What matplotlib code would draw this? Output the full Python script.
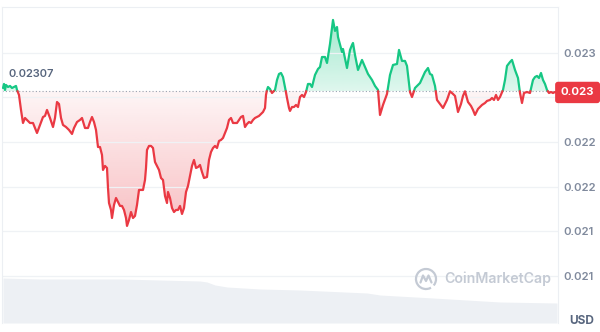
import numpy as np
import matplotlib
matplotlib.use('Agg')
import matplotlib.pyplot as plt
from matplotlib.path import Path
import matplotlib.colors as mcolors
from matplotlib.patches import Arc
import matplotlib.transforms as mtrans

plt.rcParams['font.family'] = ['Inter', 'DejaVu Sans']

# ---- data (time in arbitrary 24h units, price in USD) ----
t = [3, 4, 5, 6, 8, 10, 12, 14, 16, 17, 19, 21, 23, 25, 27, 30, 33, 37, 40, 43,
     45, 47, 50, 53, 55, 57, 59, 61, 63, 66, 69, 72, 74, 77, 80, 82, 85, 88, 90, 92,
     94, 96, 98, 100, 102, 103, 105, 107, 108, 109, 111, 112, 114, 116, 118, 120, 122, 124, 126, 127,
     129, 131, 133, 135, 137, 139, 141, 143, 145, 146, 147, 149, 151, 153, 155, 157, 159, 161, 163, 165,
     167, 168, 170, 172, 174, 176, 178, 180, 182, 184, 186, 188, 190, 192, 194, 196, 198, 200, 202, 204,
     207, 209, 211, 213, 215, 217, 219, 221, 223, 225, 227, 229, 231, 233, 235, 237, 239, 241, 243, 245,
     247, 249, 251, 253, 255, 257, 259, 261, 263, 265, 266, 267, 268, 270, 272, 274, 275, 277, 279, 281,
     283, 285, 287, 289, 290, 292, 294, 296, 298, 300, 302, 304, 306, 308, 310, 312, 315, 318, 320, 322,
     325, 327, 330, 333, 335, 337, 338, 342, 343, 347, 350, 352, 353, 355, 358, 362, 365, 368, 372, 375,
     378, 380, 383, 387, 390, 393, 397, 399, 402, 405, 407, 410, 412, 415, 420, 425, 428, 430, 432, 435,
     437, 440, 443, 447, 450, 453, 455, 458, 461, 463, 465, 468, 471, 473, 475, 478, 482, 485, 487, 490,
     492, 494, 496, 498, 500, 503, 505, 507, 510, 512, 515, 518, 520, 522, 524, 527, 530, 533, 535, 537,
     539, 541, 543, 545, 547, 549, 551, 553, 555, 557]

price = [0.023105, 0.023150, 0.023083, 0.023139, 0.023116, 0.023128, 0.023105, 0.023116, 0.023128, 0.023083,
         0.023027, 0.022859, 0.022713, 0.022769, 0.022747, 0.022713, 0.022713, 0.022601, 0.022691, 0.022780,
         0.022792, 0.022859, 0.022769, 0.022668, 0.022769, 0.022948, 0.022926, 0.022769, 0.022691, 0.022668,
         0.022635, 0.022590, 0.022657, 0.022724, 0.022747, 0.022769, 0.022657, 0.022657, 0.022724, 0.022780,
         0.022724, 0.022635, 0.022444, 0.022444, 0.022355, 0.022187, 0.022232, 0.022209, 0.021985, 0.021817,
         0.021739, 0.021649, 0.021795, 0.021873, 0.021828, 0.021784, 0.021784, 0.021739, 0.021649, 0.021560,
         0.021627, 0.021716, 0.021649, 0.021672, 0.021795, 0.021963, 0.021963, 0.021963, 0.022075, 0.022209,
         0.022411, 0.022456, 0.022456, 0.022433, 0.022276, 0.022232, 0.022187, 0.022097, 0.022075, 0.021896,
         0.021817, 0.021940, 0.021873, 0.021761, 0.021716, 0.021739, 0.021739, 0.021784, 0.021694, 0.021761,
         0.021940, 0.022008, 0.022120, 0.022232, 0.022299, 0.022209, 0.022220, 0.022243, 0.022164, 0.022097,
         0.022108, 0.022299, 0.022388, 0.022433, 0.022456, 0.022433, 0.022512, 0.022523, 0.022545, 0.022601,
         0.022657, 0.022747, 0.022769, 0.022713, 0.022713, 0.022713, 0.022747, 0.022780, 0.022792, 0.022668,
         0.022702, 0.022724, 0.022713, 0.022747, 0.022769, 0.022780, 0.022792, 0.022814, 0.022836, 0.022881,
         0.023027, 0.023083, 0.023116, 0.023094, 0.023049, 0.023072, 0.023083, 0.023195, 0.023262, 0.023273,
         0.023228, 0.023116, 0.022993, 0.022881, 0.022848, 0.022892, 0.022892, 0.022915, 0.022892, 0.023004,
         0.023027, 0.023004, 0.023060, 0.023150, 0.023150, 0.023116, 0.023251, 0.023318, 0.023340, 0.023452,
         0.023452, 0.023385, 0.023598, 0.023867, 0.023744, 0.023788, 0.023676, 0.023508, 0.023542, 0.023329,
         0.023531, 0.023587, 0.023609, 0.023475, 0.023307, 0.023419, 0.023340, 0.023262, 0.023195, 0.023128,
         0.023083, 0.022803, 0.022915, 0.023038, 0.023251, 0.023363, 0.023374, 0.023531, 0.023408, 0.023408,
         0.023352, 0.023060, 0.023004, 0.023105, 0.023161, 0.023284, 0.023329, 0.023262, 0.023251, 0.023128,
         0.022971, 0.022926, 0.022881, 0.022971, 0.023068, 0.023038, 0.023016, 0.022836, 0.022926, 0.023016,
         0.023068, 0.022948, 0.022904, 0.022859, 0.022803, 0.022870, 0.022915, 0.022937, 0.022960, 0.022971,
         0.022993, 0.022971, 0.023027, 0.022971, 0.023004, 0.023083, 0.023195, 0.023352, 0.023396, 0.023419,
         0.023307, 0.023217, 0.023049, 0.022937, 0.023049, 0.023060, 0.023049, 0.023195, 0.023228, 0.023240,
         0.023217, 0.023273, 0.023195, 0.023150, 0.023083, 0.023049, 0.023060, 0.023049, 0.023060, 0.023055]

open_price = 0.02307

vol_t = [3, 40, 120, 200, 207, 215, 227, 260, 300, 367, 380, 433, 500, 557]
volume = [45, 44, 44, 42, 41, 38, 36, 34, 33, 30, 28, 25, 21, 20]

# 0.0230 gridline label is hidden behind the current-price box in the reference
price_ticks = [0.0210, 0.0215, 0.0220, 0.0225, 0.0230, 0.0235]
price_tick_labels = ['0.021', '0.021', '0.022', '0.022', '', '0.023']
open_label = '0.02307'
last_label = '0.023'
currency = 'USD'
watermark = 'CoinMarketCap'

GREEN = '#16c784'
RED = '#ea3943'
GRID = '#eff2f5'
TICK = '#808a9d'

W, H = 600, 332
fig = plt.figure(figsize=(W / 100, H / 100), dpi=100)
rect = [2 / W, 9 / H, 556 / W, 316 / H]

# volume axes (background)
axv = fig.add_axes(rect, zorder=0)
axv.fill_between(vol_t, volume, 0, color='#edf0f4', lw=0)
axv.set_xlim(2, 558)
axv.set_ylim(0, 316)
axv.axis('off')

ax = fig.add_axes(rect, zorder=1)
ax.set_facecolor('none')

t_arr = np.array(t, float)
p_arr = np.array(price, float)

# insert baseline crossings
tt = [t_arr[0]]
pp = [p_arr[0]]
for i in range(1, len(t_arr)):
    a = p_arr[i - 1] - open_price
    b = p_arr[i] - open_price
    if a * b < 0:
        f = a / (a - b)
        tt.append(t_arr[i - 1] + f * (t_arr[i] - t_arr[i - 1]))
        pp.append(open_price)
    tt.append(t_arr[i])
    pp.append(p_arr[i])
tt = np.array(tt)
pp = np.array(pp)

ylo, yhi = 0.020473, 0.024012


def grad_fill(above, color, a_base, a_far, far):
    if above:
        where = pp >= open_price
    else:
        where = pp <= open_price
    coll = ax.fill_between(tt, pp, open_price, where=where, interpolate=True,
                           facecolor='none', edgecolor='none')
    path = Path.make_compound_path(*coll.get_paths())
    rgb = mcolors.to_rgb(color)
    n = 256
    img = np.zeros((n, 1, 4))
    img[..., :3] = rgb
    alphas = np.linspace(a_base, a_far, n) if above else np.linspace(a_far, a_base, n)
    img[:, 0, 3] = alphas
    if above:
        ext = [tt[0], tt[-1], open_price, far]
    else:
        ext = [tt[0], tt[-1], far, open_price]
    im = ax.imshow(img, extent=ext, origin='lower', aspect='auto',
                   interpolation='bilinear', zorder=1)
    im.set_clip_path(path, transform=ax.transData)


grad_fill(True, GREEN, 0.14, 0.40, max(price))
grad_fill(False, RED, 0.05, 0.32, min(price))

up = np.where(pp >= open_price, pp, np.nan)
dn = np.where(pp <= open_price, pp, np.nan)
ax.plot(tt, up, color=GREEN, lw=1.6, zorder=3, solid_joinstyle='round', solid_capstyle='round')
ax.plot(tt, dn, color=RED, lw=1.6, zorder=3, solid_joinstyle='round', solid_capstyle='round')

ax.axhline(open_price, color='#9aa3b1', lw=0.8, ls=(0, (1, 2)), zorder=2)

ax.set_xlim(2, 558)
ax.set_ylim(ylo, yhi)

ax.yaxis.tick_right()
ax.set_yticks(price_ticks)
ax.set_yticklabels(price_tick_labels)
ax.tick_params(axis='y', length=0, pad=4, labelsize=8.2, labelcolor=TICK)
for lab in ax.get_yticklabels():
    lab.set_fontweight('semibold')
ax.set_xticks([])
ax.grid(axis='y', color=GRID, lw=0.9, zorder=0)
for s in ['top', 'right', 'left']:
    ax.spines[s].set_color('#eceff3')
    ax.spines[s].set_linewidth(0.8)
ax.spines['bottom'].set_visible(False)

# open price label
ax.annotate(open_label, xy=(0.011, open_price),
            xycoords=mtrans.blended_transform_factory(ax.transAxes, ax.transData),
            xytext=(0, 8.5), textcoords='offset points', ha='left', va='bottom',
            fontsize=8, color='#58667e', fontweight='semibold', zorder=4)

# last price box
ax.text(1.0352, price[-1], last_label,
        transform=mtrans.blended_transform_factory(ax.transAxes, ax.transData),
        ha='center', va='center', fontsize=8.2, color='white', fontweight='bold',
        bbox=dict(boxstyle='round,pad=0.5,rounding_size=0.25', fc=RED, ec='none'),
        clip_on=False, zorder=6)

# watermark
WM = '#c4cad4'
fig.text(444 / W, 1 - 279 / H, watermark, ha='left', va='center', fontsize=10.2,
         color=WM, fontweight='semibold')
lax = fig.add_axes([414 / W, 1 - 291 / H, 24 / W, 24 / H], zorder=2)
lax.set_xlim(-12, 12)
lax.set_ylim(-12, 12)
lax.axis('off')
lax.add_patch(Arc((0, 0), 20, 20, theta1=-40, theta2=300, color=WM, lw=1.6))
lax.plot([-5.5, -3, 0, 2.5, 5.5], [-3.5, 3.5, -2, 3.5, -3.5], color=WM, lw=1.6,
         solid_joinstyle='round', solid_capstyle='round')

fig.text(582 / W, 1 - 321 / H, currency, ha='center', va='center', fontsize=8.5,
         color='#58667e', fontweight='bold')

fig.savefig('out.png', dpi=100)
